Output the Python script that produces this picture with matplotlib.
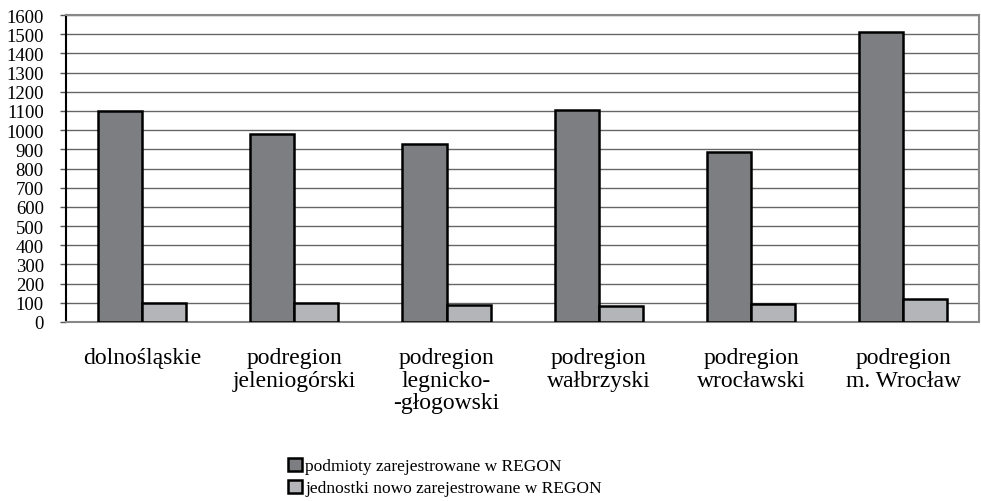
import matplotlib.pyplot as plt
import numpy as np

plt.rcParams['font.family'] = ['Liberation Serif', 'DejaVu Serif']

categories = ['dolnośląskie', 'podregion\njeleniogórski', 'podregion\nlegnicko-\n-głogowski',
              'podregion\nwałbrzyski', 'podregion\nwrocławski', 'podregion\nm. Wrocław']
podmioty = [1100, 980, 928, 1104, 884, 1510]
jednostki = [97, 98, 88, 85, 96, 118]
labels = ['podmioty zarejestrowane w REGON', 'jednostki nowo zarejestrowane w REGON']

fig = plt.figure(figsize=(9.81, 5.02), dpi=100)
ax = fig.add_axes([0.0673, 0.3566, 0.931, 0.6114])

x = np.arange(len(categories))
w = 0.29
ax.bar(x - w / 2, podmioty, w, color='#7d7e82', edgecolor='black', linewidth=1.8,
       label=labels[0], zorder=3)
ax.bar(x + w / 2, jednostki, w, color='#b4b5b8', edgecolor='black', linewidth=1.8,
       label=labels[1], zorder=3)

ax.set_xlim(-0.5, len(categories) - 0.5)
ax.set_ylim(0, 1600)
ax.set_yticks(range(0, 1601, 100))
ax.yaxis.grid(True, color='#666666', linewidth=1.0, zorder=0)
ax.tick_params(axis='y', labelsize=13.5, length=4, width=1, color='#555555', pad=12)
ax.set_xticks(x)
ax.set_xticklabels(categories, fontsize=17, linespacing=1.1)
ax.tick_params(axis='x', length=0, pad=18)

for s in ['top', 'right', 'bottom']:
    ax.spines[s].set_color('#888888')
    ax.spines[s].set_linewidth(1.5)
ax.spines['left'].set_color('black')
ax.spines['left'].set_linewidth(1.5)

fig.legend(loc='upper left', bbox_to_anchor=(279 / 981, 1 - 450 / 502), frameon=False,
           fontsize=12.5, handlelength=0.8, handleheight=0.8, handletextpad=0.2,
           labelspacing=0.3, borderpad=0)

fig.savefig('out.png', dpi=100)
